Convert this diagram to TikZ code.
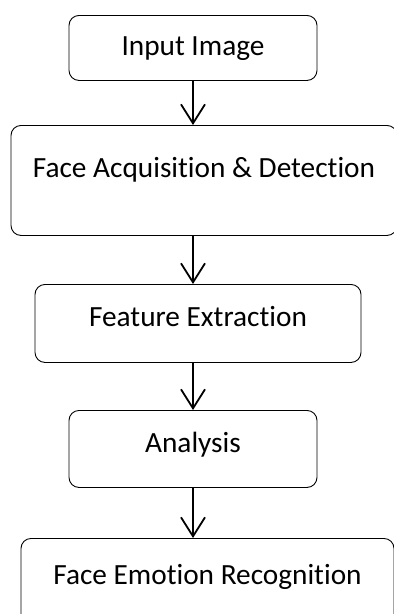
\documentclass[tikz,border=0pt]{standalone}
\usepackage{fontspec}
\setmainfont[Ligatures=NoCommon]{Carlito}
\usetikzlibrary{positioning,arrows.meta}
\tikzstyle{stage}=[draw, line width=0.9pt, rounded corners=10pt, inner sep=0pt, anchor=north, align=center]
\tikzstyle{flow}=[line width=1.8pt, -{Straight Barb[length=19pt,width=24pt,line width=1.8pt]}]

\begin{document}
\begin{tikzpicture}[x=1pt, y=-1pt]
  \fontsize{29.3}{34}\selectfont
  % 画像の範囲
  \clip (0,0) rectangle (394,614);

  % 各段階の箱
  \node[stage, minimum width=248pt, text height=40pt, text depth=25pt] (input) at (193,15) {Input Image};
  \node[stage, minimum width=386pt, text height=52pt, text depth=58pt] (acq) at (204,125) {Face Acquisition \& Detection};
  \node[stage, minimum width=326pt, text height=42pt, text depth=36pt] (feat) at (198,284) {Feature Extraction};
  \node[stage, minimum width=248pt, text height=42pt, text depth=35pt] (anal) at (193,410) {Analysis};
  \node[stage, minimum width=373pt, text height=46pt, text depth=60pt] (emot) at (207.5,538) {Face Emotion Recognition};

  % 矢印
  \draw[flow] (input.south) -- (input.south |- acq.north);
  \draw[flow] (acq.south -| input.south) -- (feat.north -| input.south);
  \draw[flow] (feat.south -| input.south) -- (anal.north -| input.south);
  \draw[flow] (anal.south) -- (anal.south |- emot.north);
\end{tikzpicture}
\end{document}
